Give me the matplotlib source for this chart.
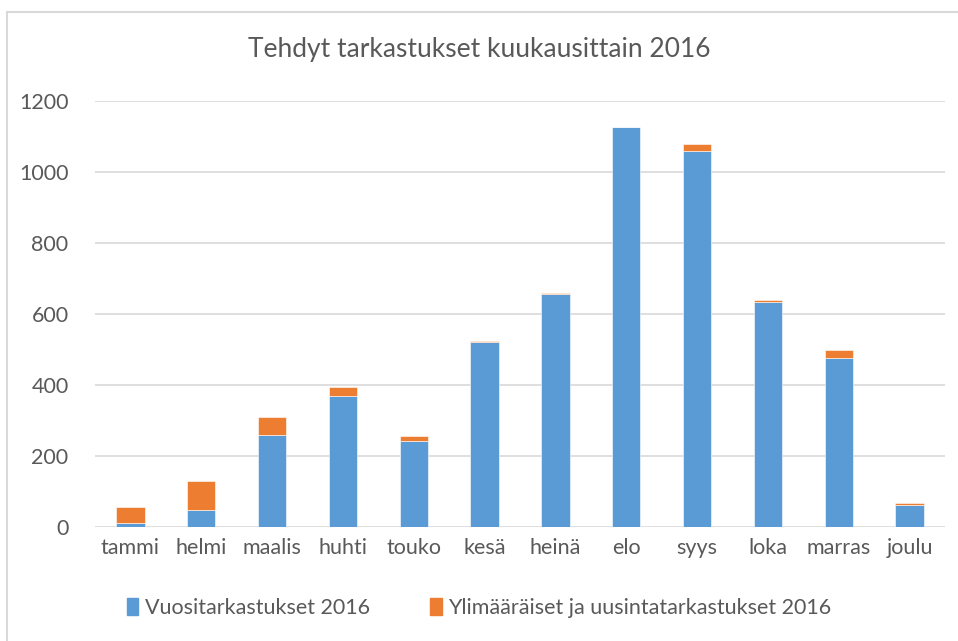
import matplotlib
matplotlib.use("Agg")
import matplotlib.pyplot as plt
import numpy as np
from matplotlib.lines import Line2D

months = ["tammi", "helmi", "maalis", "huhti", "touko", "kesä", "heinä",
          "elo", "syys", "loka", "marras", "joulu"]
vuosi = [10, 47, 260, 370, 242, 520, 655, 1127, 1060, 633, 476, 61]
ylimaar = [47, 83, 50, 24, 13, 5, 5, 0, 18, 7, 23, 8]
series_names = ["Vuositarkastukset 2016", "Ylimääräiset ja uusintatarkastukset 2016"]
title = "Tehdyt tarkastukset kuukausittain 2016"
yticks = [0, 200, 400, 600, 800, 1000, 1200]

blue = "#5B9BD5"
orange = "#ED7D31"
txt = "#595959"
grid = "#D9D9D9"

plt.rcParams['font.family'] = ['Lato', 'DejaVu Sans']

fig = plt.figure(figsize=(9.58, 6.41), dpi=100)
ax = fig.add_axes([95/958, 1 - 527/641, 850/958, 426/641])

x = np.arange(len(months))
ax.bar(x, vuosi, width=0.4, color=blue, edgecolor="white", linewidth=0.4,
       label=series_names[0], zorder=3)
ax.bar(x, ylimaar, bottom=vuosi, width=0.4, color=orange, edgecolor="white",
       linewidth=0.4, label=series_names[1], zorder=3)

ax.set_xlim(-0.5, len(months) - 0.5)
ax.set_ylim(0, 1200)
ax.set_yticks(yticks)
ax.set_yticklabels([str(v) for v in yticks])
ax.set_xticks(x)
ax.set_xticklabels(months)
for s in ax.spines.values():
    s.set_visible(False)
ax.tick_params(axis='y', length=0, colors=txt, labelsize=15.5, pad=19)
ax.tick_params(axis='x', length=0, colors=txt, labelsize=15.5, pad=8)
ax.yaxis.grid(True, color=grid, linewidth=1.2, zorder=0)
ax.set_axisbelow(True)

fig.text(0.5, 1 - 50/641, title, ha='center', va='center', fontsize=19, color=txt)

handles = [plt.Rectangle((0, 0), 1, 1, color=blue), plt.Rectangle((0, 0), 1, 1, color=orange)]
fig.legend(handles, series_names, loc='center', bbox_to_anchor=(0.5, 1 - 608/641),
           ncol=2, frameon=False, fontsize=15.5, labelcolor=txt,
           handlelength=0.55, handleheight=0.8, handletextpad=0.3, columnspacing=2.8)

# chart border (top and left visible)
fig.add_artist(Line2D([7/958, 7/958], [0, 1 - 12/641], color=grid, linewidth=1.5))
fig.add_artist(Line2D([7/958, 1], [1 - 12/641, 1 - 12/641], color=grid, linewidth=1.5))

fig.savefig("out.png", dpi=100)
